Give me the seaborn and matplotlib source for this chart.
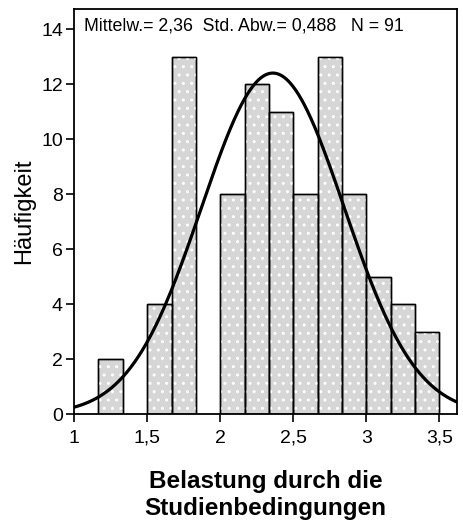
import numpy as np
import pandas as pd
import matplotlib
matplotlib.use("Agg")
import matplotlib.pyplot as plt
from matplotlib.patches import Rectangle
import seaborn as sns

# Histogram of "Belastung durch die Studienbedingungen"
bin_width = 1 / 6
bin_edges = [k / 6 for k in range(7, 22)]          # 1.167 ... 3.5
counts = [2, 0, 4, 13, 0, 8, 12, 11, 8, 13, 8, 5, 4, 3]
mean = 2.36
std = 0.488
n_total = 91
x_ticks = [1, 1.5, 2, 2.5, 3, 3.5]
x_ticklabels = ["1", "1,5", "2", "2,5", "3", "3,5"]
y_ticks = [0, 2, 4, 6, 8, 10, 12, 14]

sns.set_style("white")
plt.rcParams["font.family"] = ["Liberation Sans", "DejaVu Sans"]
plt.rcParams["hatch.linewidth"] = 1.0
plt.rcParams["text.color"] = "black"
plt.rcParams["axes.labelcolor"] = "black"

fig = plt.figure(figsize=(4.63, 5.25), dpi=100)
ax = fig.add_axes([0.160, 0.211, 0.827, 0.772])

centers = [(a + b) / 2 for a, b in zip(bin_edges[:-1], bin_edges[1:])]
df = pd.DataFrame({"value": centers, "count": counts})
sns.histplot(data=df, x="value", weights="count", bins=bin_edges, stat="count",
             color="#d6d6d6", edgecolor="black", linewidth=1.0, alpha=1,
             ax=ax, zorder=2)

# dotted texture on top of the grey fill, then the black outline again
for p in list(ax.patches):
    h = p.get_height()
    if h <= 0:
        p.set_visible(False)
        continue
    x0, w = p.get_x(), p.get_width()
    ax.add_patch(Rectangle((x0, 0), w, h, facecolor="none", edgecolor="white",
                           hatch="..", lw=0, zorder=2.1))
    ax.add_patch(Rectangle((x0, 0), w, h, fill=False, edgecolor="black",
                           lw=1.0, zorder=2.2))

# normal curve scaled to the histogram
xs = np.linspace(1.0, 3.62, 400)
ys = n_total * bin_width * np.exp(-0.5 * ((xs - mean) / std) ** 2) / (std * np.sqrt(2 * np.pi))
sns.lineplot(x=xs, y=ys, color="black", linewidth=2.3, ax=ax, zorder=3)

ax.set_xlim(1.0, 3.62)
ax.set_ylim(0, 14.73)
ax.set_xticks(x_ticks)
ax.set_xticklabels(x_ticklabels)
ax.set_yticks(y_ticks)
ax.tick_params(axis="both", direction="out", length=6, width=1.2,
               labelsize=14, colors="black", left=True, bottom=True)
ax.tick_params(axis="x", pad=5)
ax.tick_params(axis="y", pad=2)
for s in ax.spines.values():
    s.set_visible(True)
    s.set_color("black")
    s.set_linewidth(1.3)

ax.set_xlabel("Belastung durch die\nStudienbedingungen", fontsize=17.5,
              fontweight="bold", labelpad=17, linespacing=1.2, color="black")
ax.set_ylabel("Häufigkeit", fontsize=17, labelpad=4, color="black")

ax.text(0.026, 0.978, "Mittelw.= 2,36  Std. Abw.= 0,488   N = 91",
        transform=ax.transAxes, ha="left", va="top", fontsize=12.8,
        color="black")

fig.savefig("out.png", dpi=100)
